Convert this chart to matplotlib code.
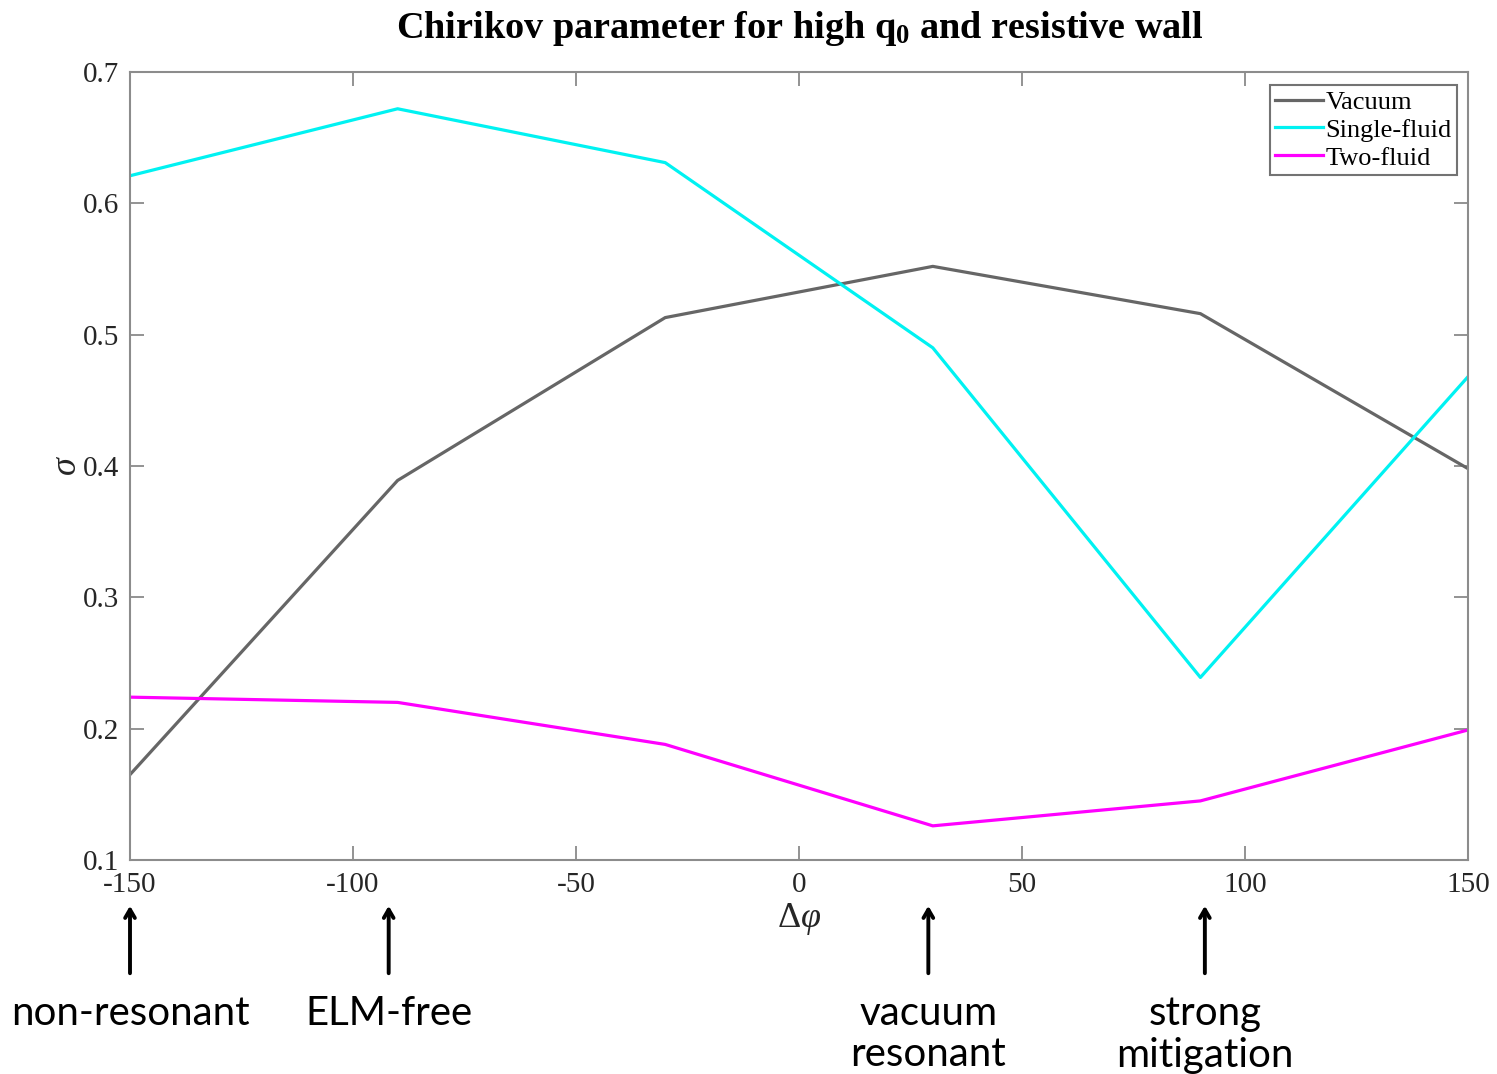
import matplotlib
matplotlib.use("Agg")
import matplotlib.pyplot as plt
import matplotlib.transforms as mtransforms

plt.rcParams["mathtext.fontset"] = "custom"
plt.rcParams["mathtext.rm"] = "Liberation Serif"
plt.rcParams["mathtext.it"] = "Liberation Serif:italic"
plt.rcParams["mathtext.bf"] = "Liberation Serif:bold"

dphi = [-150, -90, -30, 30, 90, 150]
vacuum = [0.165, 0.389, 0.513, 0.552, 0.516, 0.398]
single_fluid = [0.621, 0.672, 0.631, 0.490, 0.239, 0.468]
two_fluid = [0.224, 0.220, 0.188, 0.126, 0.145, 0.199]

xticks = [-150, -100, -50, 0, 50, 100, 150]
yticks = [0.1, 0.2, 0.3, 0.4, 0.5, 0.6, 0.7]

ann_x = [-150, -92, 29, 91]
ann_labels = ["non-resonant", "ELM-free", "vacuum\nresonant", "strong\nmitigation"]

serif = ["Liberation Serif", "DejaVu Serif"]

fig = plt.figure(figsize=(14.97, 10.74), dpi=100)
ax = fig.add_axes([130/1497, 1-860/1074, (1468-130)/1497, (860-72)/1074])

ax.plot(dphi, vacuum, color=(0.4, 0.4, 0.4), lw=2.3, label="Vacuum")
ax.plot(dphi, single_fluid, color=(0.0, 0.95, 0.95), lw=2.3, label="Single-fluid")
ax.plot(dphi, two_fluid, color=(1.0, 0.0, 1.0), lw=2.3, label="Two-fluid")

ax.set_xlim(-150, 150)
ax.set_ylim(0.1, 0.7)
ax.set_xticks(xticks)
ax.set_yticks(yticks)
ax.set_xticklabels([str(t) for t in xticks], family=serif, fontsize=21, color=(0.15, 0.15, 0.15))
ax.set_yticklabels([f"{t:.1f}" for t in yticks], family=serif, fontsize=21, color=(0.15, 0.15, 0.15))
ax.tick_params(direction="in", length=10, width=1.2, color=(0.5, 0.5, 0.5),
               top=True, right=True)
ax.tick_params(axis="x", pad=9)
ax.tick_params(axis="y", pad=8)
for s in ax.spines.values():
    s.set_color((0.55, 0.55, 0.55))
    s.set_linewidth(1.5)

ax.set_xlabel(r"$\Delta\varphi$", fontsize=26, labelpad=2, color=(0.15, 0.15, 0.15))
ax.set_ylabel(r"$\sigma$", fontsize=26, labelpad=0, color=(0.15, 0.15, 0.15))

fig.text(800/1497, 1-38/1074, r"Chirikov parameter for high q$_\mathbf{0}$ and resistive wall",
         family=serif, fontsize=27.5, fontweight="bold", ha="center", va="baseline")

leg = ax.legend(loc="upper right", prop={"family": serif, "size": 19},
                handlelength=1.8, handletextpad=0.1, borderpad=0.2,
                labelspacing=0.17, fancybox=False, framealpha=1,
                borderaxespad=0, bbox_to_anchor=(0.9918, 0.9835))
leg.get_frame().set_edgecolor((0.45, 0.45, 0.45))
leg.get_frame().set_linewidth(1.5)

trans = mtransforms.blended_transform_factory(ax.transData, fig.transFigure)
for x, lab in zip(ann_x, ann_labels):
    ax.annotate("", xy=(x, 1-903/1074), xytext=(x, 1-976/1074),
                xycoords=trans, textcoords=trans,
                arrowprops=dict(arrowstyle="->,head_length=0.6,head_width=0.35",
                                lw=2.8, color="black"),
                annotation_clip=False)
    ax.text(x, 1-995/1074, lab, transform=trans, ha="center", va="top",
            fontsize=29, family=["Lato", "DejaVu Sans"], linespacing=1.15,
            clip_on=False)

fig.savefig("out.png", dpi=100)
